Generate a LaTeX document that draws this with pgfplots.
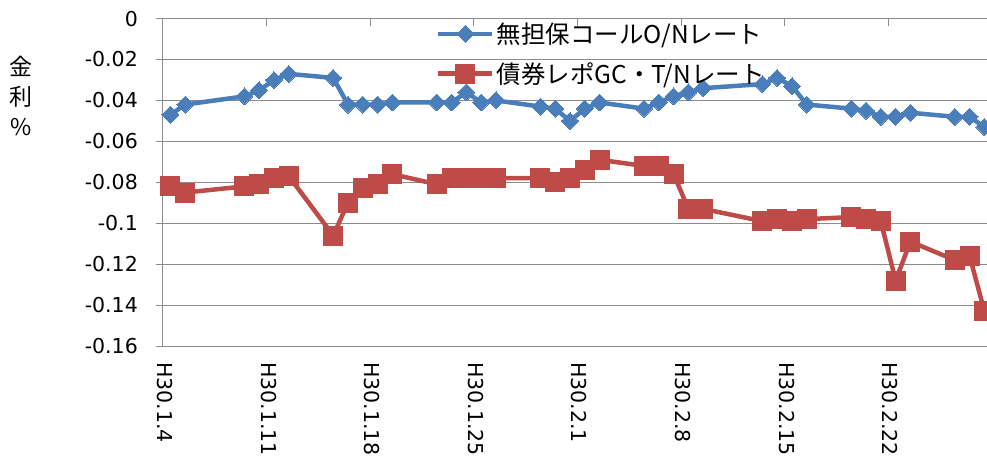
\documentclass[border=0pt]{standalone}
\usepackage{fontspec}
\setmainfont{Noto Sans CJK JP}
\newfontfamily\numfont{DejaVu Sans}
\usepackage{pgfplots}
\pgfplotsset{compat=1.18}
\definecolor{cblue}{HTML}{4A7EBB}
\definecolor{cred}{HTML}{BE4B48}
\definecolor{cgrid}{HTML}{8C8C8C}

\pgfplotstableread{
x y
0 -0.047
1 -0.042
5 -0.038
6 -0.035
7 -0.030
8 -0.027
11 -0.029
12 -0.042
13 -0.042
14 -0.042
15 -0.041
18 -0.041
19 -0.041
20 -0.036
21 -0.041
22 -0.040
25 -0.043
26 -0.044
27 -0.050
28 -0.044
29 -0.041
32 -0.044
33 -0.041
34 -0.038
35 -0.036
36 -0.034
40 -0.032
41 -0.029
42 -0.033
43 -0.042
46 -0.044
47 -0.045
48 -0.048
49 -0.048
50 -0.046
53 -0.048
54 -0.048
55 -0.053
}\callrate

\pgfplotstableread{
x y
0 -0.082
1 -0.085
5 -0.082
6 -0.081
7 -0.078
8 -0.077
11 -0.106
12 -0.090
13 -0.083
14 -0.081
15 -0.076
18 -0.081
19 -0.078
20 -0.078
21 -0.078
22 -0.078
25 -0.078
26 -0.080
27 -0.078
28 -0.074
29 -0.069
32 -0.072
33 -0.072
34 -0.076
35 -0.093
36 -0.093
40 -0.099
41 -0.098
42 -0.099
43 -0.098
46 -0.097
47 -0.098
48 -0.099
49 -0.128
50 -0.109
53 -0.118
54 -0.116
55 -0.143
}\reporate

\begin{document}
\begin{tikzpicture}
\useasboundingbox (-163pt,-113pt) rectangle (824pt,346pt);
\begin{axis}[
  at={(0pt,0pt)}, anchor=south west,
  width=828.8pt, height=327.4pt, scale only axis,
  xmin=-0.5, xmax=55.5, ymin=-0.16, ymax=0,
  clip=false,
  separate axis lines,
  x axis line style={draw=none},
  y axis line style={draw=cgrid, line width=1pt},
  xtick={-0.5,6.5,13.5,20.5,27.5,34.5,41.5,48.5},
  xticklabels={H30.1.4,H30.1.11,H30.1.18,H30.1.25,H30.2.1,H30.2.8,H30.2.15,H30.2.22},
  xtick pos=top, xticklabel pos=bottom,
  xtick align=inside, ytick align=outside,
  ytick pos=left,
  major tick length=7pt,
  every tick/.style={draw=cgrid, line width=1pt},
  ytick={0,-0.02,-0.04,-0.06,-0.08,-0.1,-0.12,-0.14,-0.16},
  yticklabels={0,-0.02,-0.04,-0.06,-0.08,-0.1,-0.12,-0.14,-0.16},
  ymajorgrids,
  major grid style={draw=cgrid, line width=1pt},
  tick label style={font=\numfont\fontsize{20.5}{24}\selectfont},
  xticklabel style={rotate=-90, anchor=west, inner sep=0pt, yshift=2pt},
  yticklabel style={inner sep=0pt},
  xticklabel shift=16pt,
  yticklabel shift=18pt,
  every axis y label/.style={at={(rel axis cs:0,0.764)}, anchor=center, xshift=-142pt, align=center, font=\fontsize{23}{30}\selectfont},
  ylabel={金\\利\\\%},
  legend style={draw=none, fill=none, at={(rel axis cs:0.3294,1)}, anchor=north west, yshift=-2pt,
    font=\fontsize{24.5}{28}\selectfont, inner sep=0pt, row sep=13.5pt, cells={anchor=west}},
  legend image code/.code={\draw[mark repeat=2,mark phase=2,#1] plot coordinates {(0pt,0pt) (27pt,0pt) (54pt,0pt)};},
]
\addplot[cblue, line width=4.5pt, line join=round, mark=square*, mark size=6pt, mark options={rotate=45, solid, line width=0pt}] table[x=x,y=y]{\callrate};
\addlegendentry{無担保コールO/Nレート}
\addplot[cred, line width=4.5pt, line join=round, mark=square*, mark size=9.5pt, mark options={solid, line width=0pt}] table[x=x,y=y]{\reporate};
\addlegendentry{債券レポGC・T/Nレート}
\end{axis}
\end{tikzpicture}
\end{document}
